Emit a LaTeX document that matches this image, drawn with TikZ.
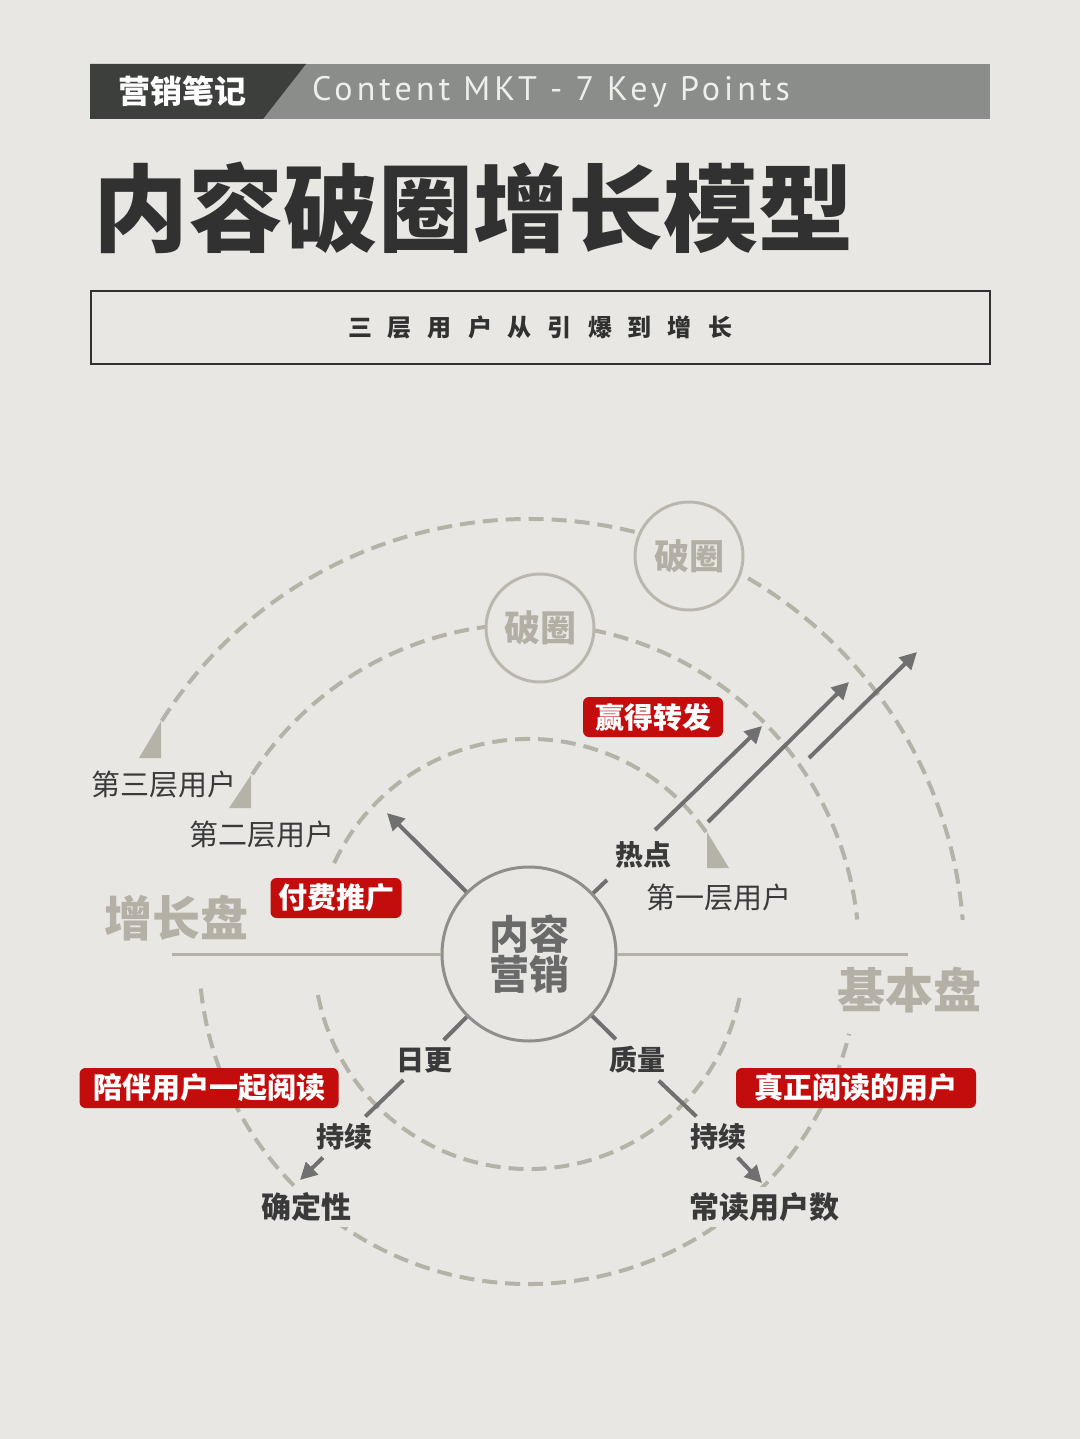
\documentclass[tikz,border=0pt]{standalone}
\usepackage{fontspec}
\usetikzlibrary{arrows.meta}
\newfontfamily\cjk{Noto Sans CJK SC}
\newfontfamily\lat{PT Sans}[LetterSpace=12]
\definecolor{bgc}{HTML}{E8E7E3}
\definecolor{hddark}{HTML}{3D3F3D}
\definecolor{hdgray}{HTML}{8B8D8A}
\definecolor{hdtext}{HTML}{EEEEEA}
\definecolor{titlec}{HTML}{303130}
\definecolor{arcc}{HTML}{B5B2A8}
\definecolor{hlinec}{HTML}{B5B1A6}
\definecolor{corec}{HTML}{8E8E8C}
\definecolor{coretext}{HTML}{6A6A6A}
\definecolor{spokec}{HTML}{707070}
\definecolor{redc}{HTML}{C30D0D}
\definecolor{pqc}{HTML}{BBB7AE}
\definecolor{pqtext}{HTML}{B3AFA5}
\definecolor{bigc}{HTML}{B4B0A6}
\definecolor{darktext}{HTML}{3A3A3A}
\newcommand\fs[1]{\fontsize{#1}{#1}\selectfont}
\tikzset{
 arcline/.style={draw=arcc, line width=4pt, dash pattern=on 15pt off 8pt},
 hline/.style={draw=hlinec, line width=3pt},
 spoke/.style={draw=spokec, line width=4pt},
 spokearrow/.style={spoke, -{Triangle[length=17pt,width=17pt]}},
 redbox/.style={fill=redc, rounded corners=6pt, text=white, font=\cjk\bfseries\fs{29}, minimum height=40pt, inner xsep=0pt, inner ysep=0pt},
 pq/.style={circle, draw=pqc, line width=3pt, fill=bgc, minimum size=108pt, text=pqtext, font=\cjk\bfseries\fs{36}, inner sep=0pt},
 biglab/.style={text=bigc, font=\cjk\bfseries\fs{48}},
 layer/.style={text=darktext, font=\cjk\fs{29}},
 keyw/.style={text=darktext, font=\cjk\bfseries\fs{28}, inner sep=7pt},
 endlab/.style={text=darktext, font=\cjk\bfseries\fs{30}, fill=bgc, inner sep=6pt},
 arcwedge/.style={fill=arcc},
}
\begin{document}
\begin{tikzpicture}[x=1pt,y=-1pt]
\fill[bgc] (0,0) rectangle (1080,1439);
\useasboundingbox (0,0) rectangle (1080,1439);
% header
\fill[hdgray] (90,64) rectangle (990,119);
\fill[hddark] (90,64) -- (306,64) -- (263,119) -- (90,119) -- cycle;
\node[text=white, font=\cjk\bfseries\fs{32}] (hdcn) at (182,91) {营销笔记};
\node[anchor=west, text=hdtext, font=\lat\fs{34}, inner sep=0pt] (hden) at (312,92) {Content MKT - 7 Key Points};
% title
\node[anchor=west, inner sep=0pt, text=titlec, font=\cjk\bfseries\fs{95}] (title) at (93,208) {内容破圈增长模型};
% subtitle
\node[draw=titlec, line width=2pt, minimum width=899pt, minimum height=73pt, text=titlec, font=\cjk\bfseries\fs{24}] (sub) at (540,327) {三\hspace{16pt}层\hspace{16pt}用\hspace{16pt}户\hspace{16pt}从\hspace{16pt}引\hspace{16pt}爆\hspace{16pt}到\hspace{16pt}增\hspace{16pt}长\hspace{20pt}};
% arcs
\coordinate (C) at (529,954);
\draw[arcline] (C) ++(-155:215) arc[start angle=-155, end angle=-34.5, radius=215];
\draw[arcline] (C) ++(-147:330) arc[start angle=-147, end angle=-6, radius=330];
\draw[arcline] (C) ++(-147.6:435) arc[start angle=-147.6, end angle=-4.5, radius=435];
\draw[arcline] (C) ++(169:215) arc[start angle=169, end angle=11, radius=215];
\draw[arcline] (C) ++(174:330) arc[start angle=174, end angle=14, radius=330];
\fill[arcwedge] (707,832) -- (707,868) -- (729,868) -- cycle;
\fill[arcwedge] (251,775) -- (229,808) -- (251,808) -- cycle;
\fill[arcwedge] (161,721) -- (139,758) -- (161,758) -- cycle;
% break-circle nodes
\node[pq] (pq1) at (540,628) {破圈};
\node[pq, font=\cjk\bfseries\fs{35}] (pq2) at (689,556) {破圈};
% core
\node[circle, draw=corec, line width=3pt, minimum size=174pt, fill=bgc, text=coretext, font=\cjk\bfseries\fs{40}, align=center, inner sep=0pt] (core) at (529,954) {\fontsize{40}{42}\selectfont 内容\\营销};
\coordinate (hlL) at (172,954);
\coordinate (hlR) at (908,954);
\draw[hline] (hlL) -- (core);
\draw[hline] (core) -- (hlR);
% big labels
\node[biglab] (zzp) at (176,918) {增长盘};
\node[biglab] (jbp) at (909,990) {基本盘};
% layer labels
\node[layer] (l3) at (164,785) {第三层用户};
\node[layer] (l2) at (262,835) {第二层用户};
\node[layer, fill=bgc, inner sep=4pt] (l1) at (719,898) {第一层用户};
% keywords
\node[keyw] (hot) at (643,855) {热点};
\node[keyw] (rigeng) at (424,1060) {日更};
\node[keyw] (zhiliang) at (637,1060) {质量};
\node[keyw] (chixuL) at (344,1137) {持续};
\node[keyw] (chixuR) at (718,1137) {持续};
\node[endlab] (qds) at (306,1207) {确定性};
\node[endlab] (cdu) at (764,1207) {常读用户数};
% spokes
\coordinate (ulTip) at (387,813);
\coordinate (hotStub) at (607,880);
\coordinate (qdTip) at (300,1180);
\coordinate (cdTip) at (762,1183);
\draw[spokearrow] (core) -- (ulTip);
\draw[spoke] (core) -- (hotStub);
\draw[spoke] (core) -- (rigeng);
\draw[spoke] (rigeng) -- (chixuL);
\draw[spokearrow] (chixuL) -- (qdTip);
\draw[spoke] (core) -- (zhiliang);
\draw[spoke] (zhiliang) -- (chixuR);
\draw[spokearrow] (chixuR) -- (cdTip);
% three outward arrows
\coordinate (a1s) at (655,830); \coordinate (a1e) at (762,726);
\coordinate (a2s) at (708,822); \coordinate (a2e) at (849,682);
\coordinate (a3s) at (809,758); \coordinate (a3e) at (917,652);
\draw[spokearrow] (a1s) -- (a1e);
\draw[spokearrow] (a2s) -- (a2e);
\draw[spokearrow] (a3s) -- (a3e);
% red labels
\node[redbox, minimum width=140pt] (r1) at (653,717) {赢得转发};
\node[redbox, minimum width=131pt] (r2) at (336,898) {付费推广};
\node[redbox, minimum width=259pt] (r3) at (209,1088) {陪伴用户一起阅读};
\node[redbox, minimum width=240pt] (r4) at (856,1088) {真正阅读的用户};
\end{tikzpicture}
\end{document}
